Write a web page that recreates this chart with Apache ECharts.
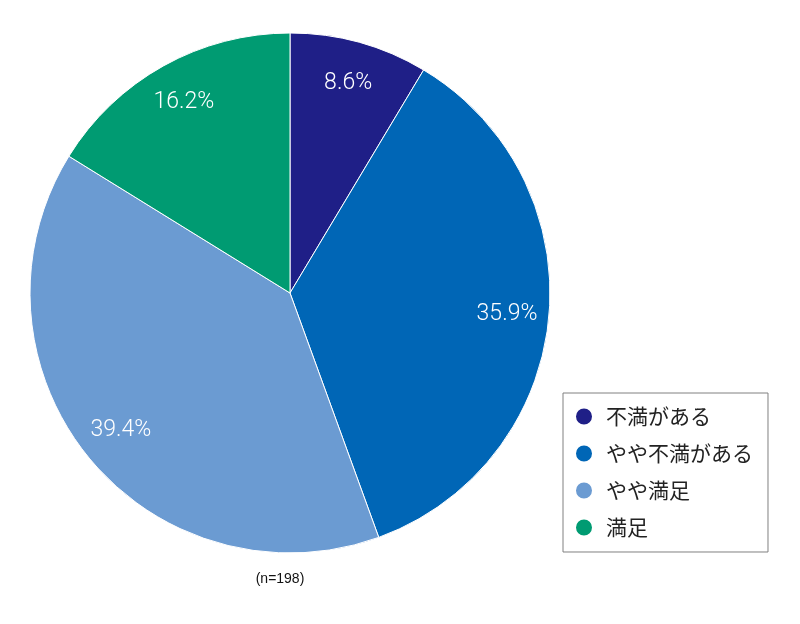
<!DOCTYPE html>
<html>
<head>
    <meta charset="utf-8">
    <title>満足度</title>
    <script src="https://cdn.jsdelivr.net/npm/echarts@6/dist/echarts.min.js"></script>
    <style>
        html, body { margin: 0; padding: 0; background: #fff; }
        #main { width: 800px; height: 624px; }
    </style>
</head>
<body>
    <div id="main"></div>
    <script type="text/javascript">
        // データ
        var categories = ['不満がある', 'やや不満がある', 'やや満足', '満足'];
        var values = [8.6, 35.9, 39.4, 16.2];
        var colors = ['#1f1f87', '#0066b6', '#6b9bd2', '#009b72'];
        var noteText = '(n=198)';

        var font = '"Noto Sans CJK JP", "Noto Sans", sans-serif';
        var numFont = 'Roboto, "Liberation Sans", Arial, sans-serif';
        var pieData = categories.map(function (name, i) {
            return { name: name, value: values[i], itemStyle: { color: colors[i] } };
        });

        var chart = echarts.init(document.getElementById('main'));
        var option = {
            animation: false,
            textStyle: { fontFamily: font },
            legend: {
                orient: 'vertical',
                left: 563,
                top: 393,
                padding: [13, 15, 14, 11],
                itemGap: 16,
                itemWidth: 18,
                itemHeight: 18,
                icon: 'circle',
                borderColor: '#808080',
                borderWidth: 1,
                data: categories,
                textStyle: { fontSize: 21, color: '#222', fontFamily: font, padding: [0, 0, 0, 8] }
            },
            title: {
                text: noteText,
                left: 275,
                top: 567,
                textAlign: 'center',
                textStyle: { fontSize: 14, fontWeight: 'normal', color: '#111', fontFamily: '"Liberation Sans", Arial, sans-serif' }
            },
            series: [
                {
                    type: 'pie',
                    center: [290, 293],
                    radius: 260,
                    startAngle: 90,
                    clockwise: true,
                    label: { show: false },
                    labelLine: { show: false },
                    itemStyle: { borderColor: '#fff', borderWidth: 1 },
                    emphasis: { disabled: true },
                    data: pieData
                },
                {
                    // ラベル用の透明なリング
                    type: 'pie',
                    center: [290, 293],
                    radius: [170, 260],
                    startAngle: 90,
                    silent: true,
                    legendHoverLink: false,
                    itemStyle: { color: 'rgba(0,0,0,0)' },
                    label: {
                        show: true,
                        position: 'inside',
                        color: '#fff',
                        fontSize: 23,
                        fontWeight: 300,
                        fontFamily: numFont,
                        formatter: function (p) { return p.value.toFixed(1) + '%'; }
                    },
                    labelLine: { show: false },
                    emphasis: { disabled: true },
                    tooltip: { show: false },
                    data: categories.map(function (name, i) {
                        return { name: name + ' ', value: values[i] };
                    })
                }
            ]
        };
        chart.setOption(option);
    </script>
</body>
</html>
